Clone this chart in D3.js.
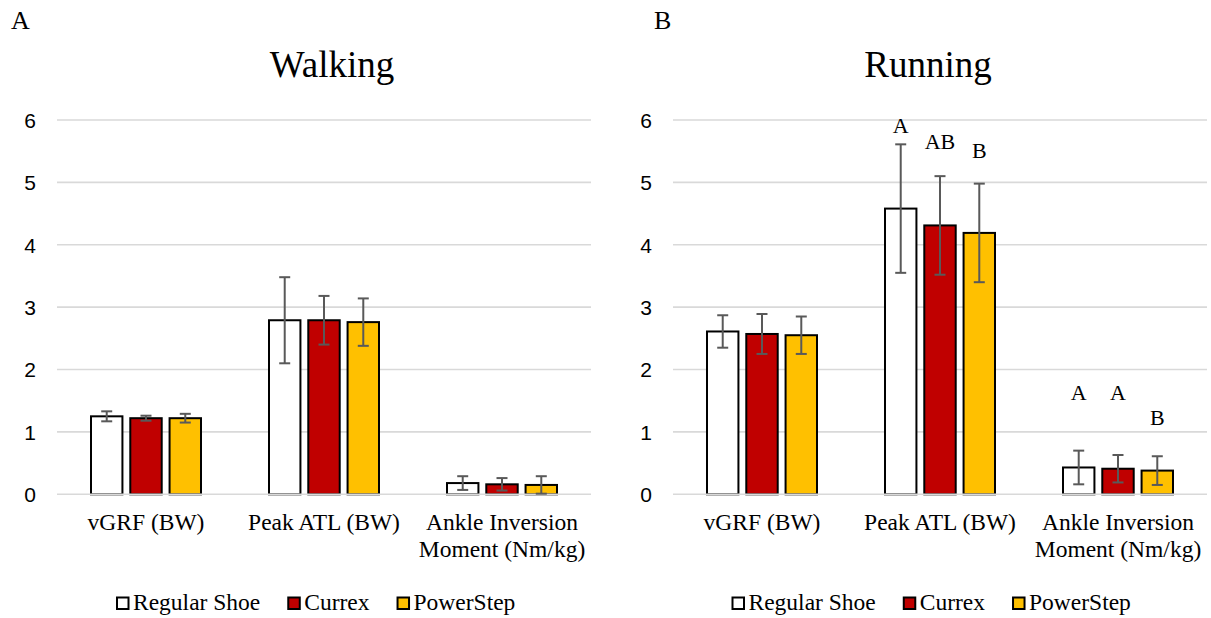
<!DOCTYPE html>
<html><head><meta charset="utf-8">
<script src="https://cdn.jsdelivr.net/npm/d3@7"></script>
<style>
html,body{margin:0;padding:0;background:#fff;}
svg{display:block;}
</style></head>
<body>
<svg id="chart" width="1211" height="618"></svg>
<script>
const categories = [["vGRF (BW)"], ["Peak ATL (BW)"], ["Ankle Inversion", "Moment (Nm/kg)"]];
const series = ["Regular Shoe", "Currex", "PowerStep"];
const colors = ["#FFFFFF", "#C00000", "#FFC000"];
const yTicks = [0, 1, 2, 3, 4, 5, 6];

// Walking means and SDs (per series, across categories)
const walkRegular = [1.25, 2.79, 0.18];
const walkCurrex = [1.22, 2.79, 0.16];
const walkPowerStep = [1.22, 2.76, 0.15];
const walkRegularErr = [0.08, 0.69, 0.11];
const walkCurrexErr = [0.04, 0.39, 0.10];
const walkPowerStepErr = [0.07, 0.38, 0.14];

// Running means and SDs
const runRegular = [2.61, 4.58, 0.43];
const runCurrex = [2.57, 4.31, 0.41];
const runPowerStep = [2.55, 4.19, 0.38];
const runRegularErr = [0.26, 1.03, 0.27];
const runCurrexErr = [0.32, 0.79, 0.22];
const runPowerStepErr = [0.30, 0.79, 0.23];

// Significance letters (running): [category index, series index, letter, anchor value]
const runLetters = [
  [1, 0, "A", 5.79], [1, 1, "AB", 5.53], [1, 2, "B", 5.39],
  [2, 0, "A", 1.51], [2, 1, "A", 1.51], [2, 2, "B", 1.11]
];

const svg = d3.select("#chart");
const serif = "'Liberation Serif','Times New Roman',serif";
const sans = "'Liberation Sans',Arial,sans-serif";

function panel(opts) {
  const g = svg.append("g");
  const y = d3.scaleLinear().domain([0, 6]).range([494.3, 120]);
  const x0 = d3.scaleBand().domain(d3.range(categories.length)).range([opts.left, opts.right]).padding(0);
  const x1 = d3.scaleBand().domain(d3.range(series.length)).range([-55, 55]).paddingInner(0.2).paddingOuter(0);
  const cx = i => x0(i) + x0.bandwidth() / 2;

  // panel letter
  g.append("text").attr("x", opts.letterX).attr("y", 29)
    .attr("font-family", serif).attr("font-size", 26).attr("fill", "#000").text(opts.letter);
  // title
  g.append("text").attr("x", opts.titleX).attr("y", 77).attr("text-anchor", "middle")
    .attr("font-family", serif).attr("font-size", 37).attr("fill", "#000").text(opts.title);

  // gridlines
  g.append("g").selectAll("line").data(yTicks.filter(d => d > 0)).join("line")
    .attr("x1", opts.left).attr("x2", opts.right)
    .attr("y1", d => y(d)).attr("y2", d => y(d))
    .attr("stroke", "#D9D9D9").attr("stroke-width", 1.6);

  // y axis labels
  const yAxis = d3.axisLeft(y).tickValues(yTicks).tickSize(0).tickPadding(21).tickFormat(d3.format("d"));
  const ya = g.append("g").attr("transform", `translate(${opts.left},0)`).call(yAxis);
  ya.select(".domain").remove();
  ya.selectAll("text").attr("font-family", sans).attr("font-size", 21).attr("fill", "#000").attr("dy", "0.35em");

  // bars
  series.forEach((s, si) => {
    const vals = opts.means[si];
    g.append("g").selectAll("rect").data(vals).join("rect")
      .attr("x", (d, i) => cx(i) + x1(si))
      .attr("width", x1.bandwidth())
      .attr("y", d => y(d))
      .attr("height", d => y(0) - y(d))
      .attr("fill", colors[si]).attr("stroke", "#000").attr("stroke-width", 2);
  });

  // baseline
  g.append("line").attr("x1", opts.left).attr("x2", opts.right)
    .attr("y1", y(0)).attr("y2", y(0)).attr("stroke", "#D9D9D9").attr("stroke-width", 1.6);

  // error bars
  series.forEach((s, si) => {
    const vals = opts.means[si], errs = opts.errs[si];
    const eg = g.append("g").attr("stroke", "#595959").attr("stroke-width", 2);
    vals.forEach((v, i) => {
      const bx = cx(i) + x1(si) + x1.bandwidth() / 2;
      const lo = Math.max(0, v - errs[i]), hi = v + errs[i];
      eg.append("line").attr("x1", bx).attr("x2", bx).attr("y1", y(lo)).attr("y2", y(hi));
      eg.append("line").attr("x1", bx - 5.5).attr("x2", bx + 5.5).attr("y1", y(lo)).attr("y2", y(lo));
      eg.append("line").attr("x1", bx - 5.5).attr("x2", bx + 5.5).attr("y1", y(hi)).attr("y2", y(hi));
    });
  });

  // significance letters
  if (opts.letters) {
    g.append("g").selectAll("text").data(opts.letters).join("text")
      .attr("x", d => cx(d[0]) + x1(d[1]) + x1.bandwidth() / 2)
      .attr("y", d => y(d[3]))
      .attr("text-anchor", "middle").attr("font-family", serif).attr("font-size", 22).attr("fill", "#000")
      .text(d => d[2]);
  }

  // category labels
  categories.forEach((lines, i) => {
    const t = g.append("text").attr("text-anchor", "middle").attr("font-family", serif)
      .attr("font-size", 23.5).attr("fill", "#000");
    lines.forEach((ln, li) => {
      t.append("tspan").attr("x", cx(i)).attr("y", 530 + li * 27.3).text(ln);
    });
  });

  // legend
  let lx = opts.legendX;
  series.forEach((s, si) => {
    g.append("rect").attr("x", lx + 1).attr("y", 597.5).attr("width", 11.5).attr("height", 11.5)
      .attr("fill", colors[si]).attr("stroke", "#000").attr("stroke-width", 2);
    const t = g.append("text").attr("x", lx + 17).attr("y", 609.5).attr("font-family", serif)
      .attr("font-size", 23.5).attr("fill", "#000").text(s);
    lx = lx + 17 + t.node().getComputedTextLength() + 27;
  });
}

panel({
  letter: "A", letterX: 11, title: "Walking", titleX: 332,
  left: 57, right: 591, legendX: 116,
  means: [walkRegular, walkCurrex, walkPowerStep],
  errs: [walkRegularErr, walkCurrexErr, walkPowerStepErr]
});
panel({
  letter: "B", letterX: 654, title: "Running", titleX: 928,
  left: 673, right: 1207, legendX: 731.5,
  means: [runRegular, runCurrex, runPowerStep],
  errs: [runRegularErr, runCurrexErr, runPowerStepErr],
  letters: runLetters
});
</script>
</body></html>
